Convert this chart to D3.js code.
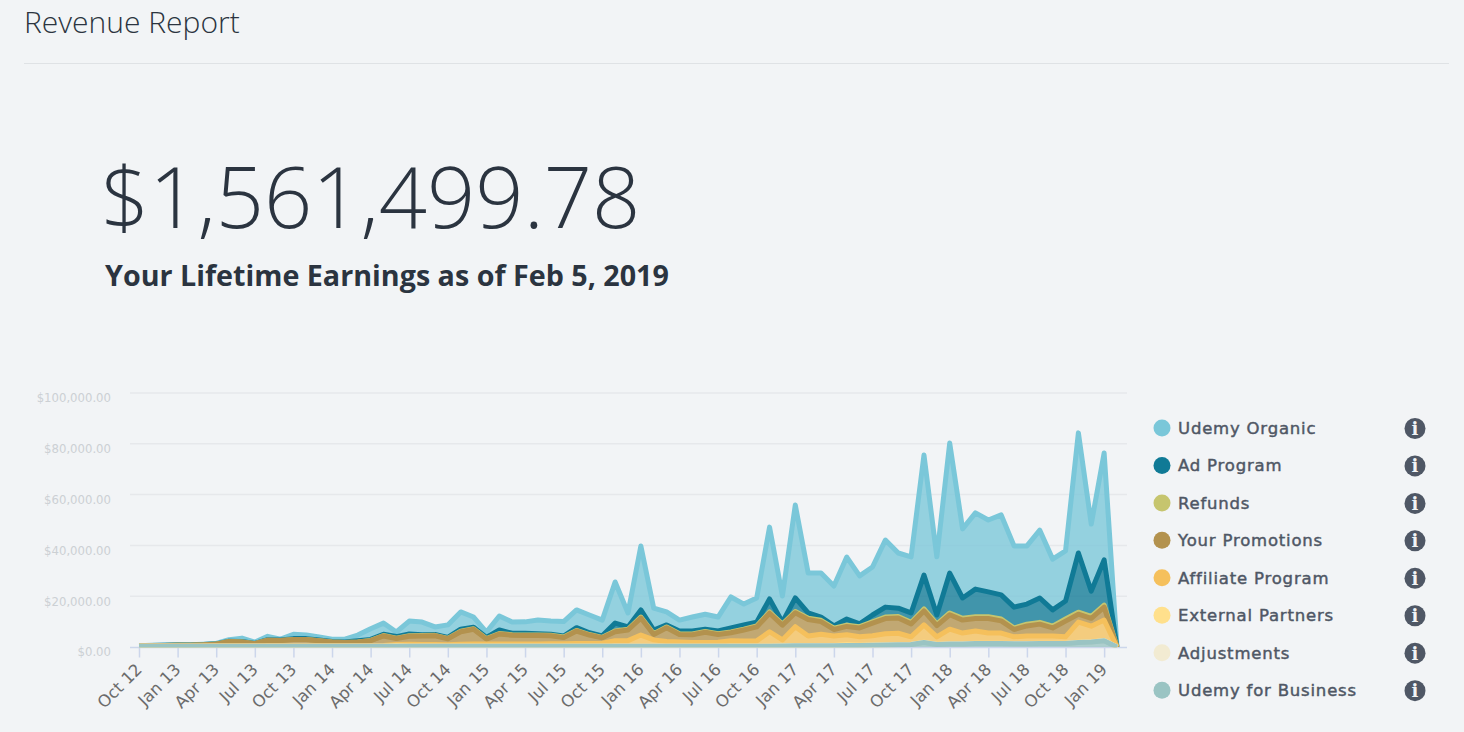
<!DOCTYPE html>
<html>
<head>
<meta charset="utf-8">
<title>Revenue Report</title>
<script src="https://cdn.jsdelivr.net/npm/d3@7/dist/d3.min.js"></script>
<style>
  html, body { margin: 0; padding: 0; background: #f2f4f6; overflow: hidden; }
  svg { display: block; }
  .head { font-family: "Open Sans", sans-serif; fill: #2b3440; }
  .axis-x text { font-family: "DejaVu Sans", sans-serif; font-size: 16.5px; fill: #6b6b6b; }
  .axis-y text { font-family: "DejaVu Sans", sans-serif; font-size: 11.7px; fill: #ccd0d4; }
  .legend-label { font-family: "DejaVu Sans", sans-serif; font-weight: 400; font-size: 16.5px; letter-spacing: 0.8px;
    fill: #4f5765; stroke: #4f5765; stroke-width: 0.45px; }
</style>
</head>
<body>
<svg id="chart" width="1464" height="732"></svg>
<script>
// Monthly earnings in dollars, October 2012 to February 2019.
const monthNames = ["Jan","Feb","Mar","Apr","May","Jun","Jul","Aug","Sep","Oct","Nov","Dec"];
const months = [];
for (let n = 0; n < 77; n++) {
  const m = (9 + n) % 12;
  const y = 12 + Math.floor((9 + n) / 12);
  months.push(monthNames[m] + " " + y);
}

const udemyOrganic = [50,100,100,120,80,150,150,600,1300,500,1300,300,1700,1400,1100,900,1100,2200,4200,4400,
  1800,5100,5000,3000,4900,6800,4000,2100,5500,4400,4500,5400,5200,5700,7000,7000,6200,16200,5500,25200,
  8600,5100,4300,5500,5900,5500,12200,8200,9500,28300,10300,36600,15700,17300,15700,24400,18900,18900,26400,21700,
  22100,47300,22900,51200,27200,30000,28300,31500,24100,22900,26700,20000,19700,47300,26400,42100,0];
const adProgram = [30,50,60,100,80,100,100,100,200,100,200,200,300,300,300,200,200,500,400,500,
  600,700,300,300,400,800,600,500,1400,600,700,500,400,400,1100,700,600,3100,900,2800,
  1500,800,1100,1200,900,1100,1600,1700,1500,5100,800,5300,2100,1300,900,2400,1100,2700,3900,3300,
  3700,13300,3600,15700,8000,10900,9800,9500,8200,7900,9600,6400,7100,23300,9900,17800,0];
const refunds = [10,10,10,10,10,10,20,20,20,20,30,30,30,30,30,30,30,50,100,150,
  150,150,150,150,150,200,200,200,200,200,200,200,200,200,200,200,200,300,300,400,
  300,300,300,300,300,300,300,300,400,500,400,500,500,500,500,500,500,500,600,600,
  600,800,600,700,700,700,700,700,600,700,700,700,800,800,800,800,0];
const yourPromotions = [60,120,200,320,280,420,680,1700,1500,800,2200,2100,2500,2500,2000,1500,1300,1500,2000,3800,
  2350,3150,3350,3450,2350,4900,5800,1900,3900,3400,3300,3300,3100,2400,4900,3300,2100,3500,4200,6700,
  2100,5400,2900,3000,4000,3000,3100,4300,5500,7300,5800,5500,6500,5000,2600,3300,3500,5000,6000,6000,
  5100,5500,4400,5700,5100,4900,5700,4800,2900,4000,4700,3200,6200,3100,3100,5100,0];
const affiliateProgram = [50,70,80,100,100,120,150,180,180,180,170,170,170,170,170,170,170,150,200,250,
  540,800,700,700,600,800,900,900,900,900,900,900,1000,1000,1100,1100,1200,2200,2200,4400,
  2500,1900,1700,1500,1500,1600,2200,2100,2100,5700,2300,7400,3700,4400,3700,3900,3300,3600,4300,4400,
  2900,6800,2900,5700,4200,4800,4000,4000,2600,2900,2800,2800,2500,7900,6100,8000,0];
const externalPartners = [40,40,40,40,40,40,40,40,40,40,40,40,40,40,40,40,40,40,40,40,
  200,40,40,40,40,40,40,40,40,40,40,40,40,40,40,40,40,40,40,40,
  40,40,40,40,40,40,40,40,40,40,90,90,90,90,90,290,90,90,90,90,
  90,90,90,90,90,90,90,90,90,90,90,90,90,90,90,90,0];
const adjustments = [10,10,10,10,10,10,10,10,10,10,10,10,10,10,10,10,10,10,10,10,
  10,10,10,10,10,10,10,10,10,10,10,10,10,10,10,10,10,10,10,10,
  10,10,10,10,10,10,10,10,10,10,10,10,10,10,10,10,10,10,10,10,
  10,10,10,10,10,10,10,10,10,10,10,10,10,10,10,10,0];
const udemyForBusiness = [250,250,250,250,250,250,250,250,250,250,250,250,250,250,250,250,250,250,250,250,
  250,250,250,250,250,250,250,250,250,250,250,250,250,250,250,250,250,250,250,250,
  250,250,250,250,250,250,250,250,250,250,400,500,500,500,500,600,600,700,800,900,
  1000,1800,1000,1200,1200,1400,1400,1400,1300,1300,1400,1400,1400,1800,2000,2500,0];

const seriesNames = ["Udemy Organic","Ad Program","Refunds","Your Promotions","Affiliate Program","External Partners","Adjustments","Udemy for Business"];
const seriesColors = ["#7ac7d9","#107a96","#c6c56e","#b3924e","#f5c05c","#ffe08c","#f2ebd2","#9ac4c3"];
const seriesValues = [udemyOrganic, adProgram, refunds, yourPromotions, affiliateProgram, externalPartners, adjustments, udemyForBusiness];
const yTicks = [0, 20000, 40000, 60000, 80000, 100000];

const svg = d3.select("#chart");
svg.append("rect").attr("width", 1464).attr("height", 732).attr("fill", "#f2f4f6");

// Page heading and lifetime total
svg.append("text").attr("class", "head").attr("x", 24).attr("y", 33)
  .style("font-size", "30px").style("font-weight", 300).text("Revenue Report");
svg.append("line").attr("x1", 24).attr("x2", 1449).attr("y1", 63.5).attr("y2", 63.5)
  .attr("stroke", "#dfe2e5").attr("stroke-width", 1);
svg.append("text").attr("class", "head").attr("x", 101).attr("y", 228)
  .style("font-size", "84.6px").style("font-weight", 300).text("$1,561,499.78");
svg.append("text").attr("class", "head").attr("x", 105).attr("y", 285.5)
  .style("font-size", "28.7px").style("font-weight", 700).text("Your Lifetime Earnings as of Feb 5, 2019");

// Scales
const x = d3.scalePoint().domain(months).range([139, 1117]);
const y = d3.scaleLinear().domain([0, 100000]).range([647, 393]);

// Gridlines and value axis
const yAxis = d3.axisLeft(y).tickValues(yTicks).tickSize(0).tickPadding(0)
  .tickFormat(d => "$" + d3.format(",.2f")(d));
const yG = svg.append("g").attr("class", "axis-y").attr("transform", "translate(111,0)").call(yAxis);
yG.select(".domain").remove();
yG.selectAll("text").attr("dy", "0.85em").attr("y", -1);

svg.append("g").selectAll("line").data(yTicks.slice(1)).join("line")
  .attr("x1", 130).attr("x2", 1127)
  .attr("y1", d => y(d)).attr("y2", d => y(d))
  .attr("stroke", "#e6e8eb").attr("stroke-width", 1.5);

// Month axis: one label per quarter
const xAxis = d3.axisBottom(x)
  .tickValues(months.filter((m, i) => i % 3 === 0))
  .tickSize(10).tickPadding(8);
const xG = svg.append("g").attr("class", "axis-x").attr("transform", "translate(0,647.5)").call(xAxis);
xG.select(".domain").remove();
xG.selectAll("line").attr("stroke", "#ccd6eb").attr("stroke-width", 1.5);
xG.selectAll("text")
  .attr("text-anchor", "end")
  .attr("dx", "-1px").attr("dy", "6px")
  .attr("transform", function () {
    const ty = +d3.select(this).attr("y");
    return `rotate(-45 0 ${ty})`;
  });
svg.append("line").attr("x1", 130).attr("x2", 1127).attr("y1", 647.5).attr("y2", 647.5)
  .attr("stroke", "#ccd6eb").attr("stroke-width", 1.5);

// Stacked areas, first-named series on top of the stack
const table = months.map((m, i) => {
  const row = { month: m };
  seriesNames.forEach((s, k) => { row[s] = seriesValues[k][i]; });
  return row;
});
const stack = d3.stack().keys(seriesNames.slice().reverse())(table);

svg.append("defs").append("clipPath").attr("id", "plot-clip").append("rect")
  .attr("x", 130).attr("y", 380).attr("width", 997).attr("height", 267.5);

const area = d3.area().x(d => x(d.data.month)).y0(d => y(d[0])).y1(d => y(d[1]));
const line = d3.line().x(d => x(d.data.month)).y(d => y(d[1]));
const plot = svg.append("g").attr("clip-path", "url(#plot-clip)");

// Highest band first so that lower bands and their outlines paint over it
stack.slice().reverse().forEach(layer => {
  const color = seriesColors[seriesNames.indexOf(layer.key)];
  const g = plot.append("g");
  g.append("path").datum(layer).attr("d", area).attr("fill", color).attr("fill-opacity", 0.78);
  g.append("path").datum(layer).attr("d", line).attr("fill", "none")
    .attr("stroke", color).attr("stroke-width", 5).attr("stroke-linejoin", "round");
});

// Legend with an info badge per row
const legend = svg.append("g").selectAll("g").data(seriesNames).join("g")
  .attr("transform", (d, i) => `translate(0,${428 + i * 37.45})`);
legend.append("circle").attr("cx", 1162).attr("r", 8.5)
  .attr("fill", (d, i) => seriesColors[i]);
legend.append("text").attr("class", "legend-label").attr("x", 1178).attr("y", 6).text(d => d);
legend.append("circle").attr("cx", 1415).attr("cy", 0.5).attr("r", 10.5).attr("fill", "#4f5765");
legend.append("text").attr("x", 1415).attr("y", 7).attr("text-anchor", "middle")
  .style("font-family", "'DejaVu Serif', serif").style("font-weight", 700).style("font-size", "18px")
  .attr("fill", "#f2f4f6").text("i");
</script>
</body>
</html>
